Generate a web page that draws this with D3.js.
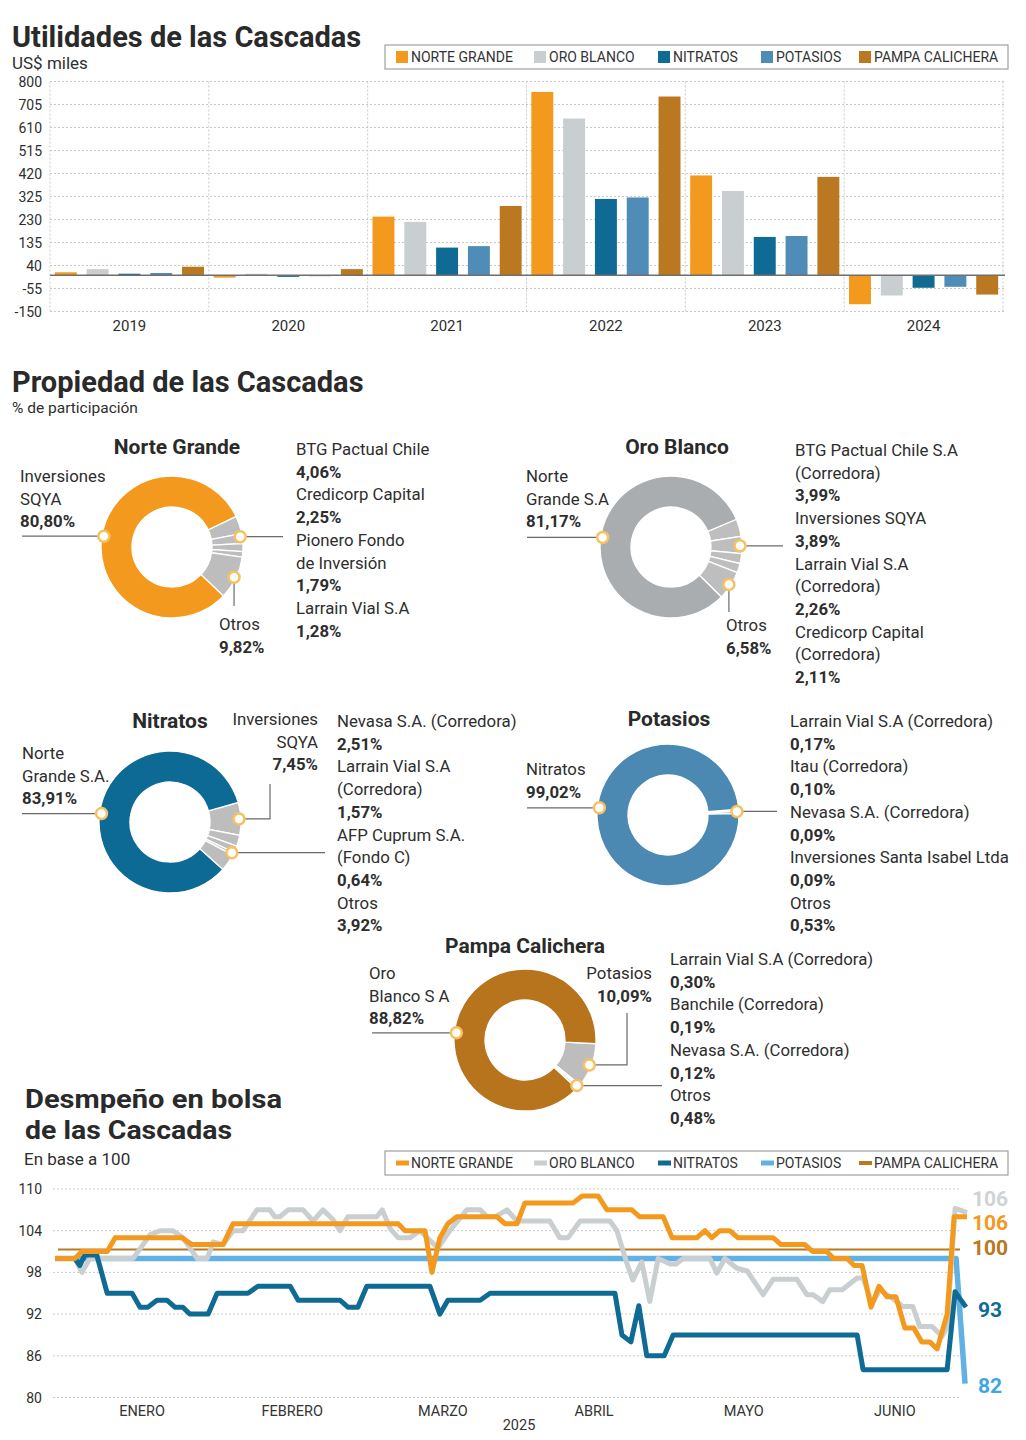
<!DOCTYPE html>
<html><head><meta charset="utf-8">
<script src="https://cdn.jsdelivr.net/npm/d3@7"></script>
<style>
body{margin:0;background:#fff;}
svg{display:block;font-family:Roboto,"Noto Sans",sans-serif;}
</style></head><body>
<svg id="c" width="1026" height="1440"></svg>
<script>
// ================= DATA =================
// --- Utilidades (US$ miles) ---
const years = ["2019","2020","2021","2022","2023","2024"];
const companies = ["NORTE GRANDE","ORO BLANCO","NITRATOS","POTASIOS","PAMPA CALICHERA"];
const profitNorteGrande = [12,-10,242,757,412,-120];
const profitOroBlanco   = [25,6,220,647,348,-84];
const profitNitratos    = [6,-7,114,315,158,-52];
const profitPotasios    = [9,-4,120,321,162,-48];
const profitPampa       = [35,25,286,738,406,-80];
const profitTicks = [-150,-55,40,135,230,325,420,515,610,705,800];

// --- Propiedad (% de participación) ---
const ngHolders = ["Inversiones\nSQYA","BTG Pactual Chile","Credicorp Capital","Pionero Fondo\nde Inversión","Larrain Vial S.A","Otros"];
const ngShares  = [80.80,4.06,2.25,1.79,1.28,9.82];
const obHolders = ["Norte\nGrande S.A","BTG Pactual Chile S.A\n(Corredora)","Inversiones SQYA","Larrain Vial S.A\n(Corredora)","Credicorp Capital\n(Corredora)","Otros"];
const obShares  = [81.17,3.99,3.89,2.26,2.11,6.58];
const niHolders = ["Norte\nGrande S.A.","Inversiones\nSQYA","Nevasa S.A. (Corredora)","Larrain Vial S.A\n(Corredora)","AFP Cuprum S.A.\n(Fondo C)","Otros"];
const niShares  = [83.91,7.45,2.51,1.57,0.64,3.92];
const poHolders = ["Nitratos","Larrain Vial S.A (Corredora)","Itau (Corredora)","Nevasa S.A. (Corredora)","Inversiones Santa Isabel Ltda","Otros"];
const poShares  = [99.02,0.17,0.10,0.09,0.09,0.53];
const pcHolders = ["Oro\nBlanco S A","Potasios","Larrain Vial S.A (Corredora)","Banchile (Corredora)","Nevasa S.A. (Corredora)","Otros"];
const pcShares  = [88.82,10.09,0.30,0.19,0.12,0.48];

// --- Desempeño en bolsa (base 100), [día desde 29-dic-2024, valor] ---
const monthLabels = ["ENERO","FEBRERO","MARZO","ABRIL","MAYO","JUNIO"];
const monthDays = [17.5,47.7,78.0,108.4,138.5,168.9];
const stockTicks = [80,86,92,98,104,110];
const stockNorteGrande = [[0,100],[4,100],[5.4,101],[10.5,101],[12.1,103],[25.5,103],[27.5,102],[33.8,102],[35.8,105],[69,105],[70.4,104],[74.4,104],[75.8,98],[77.4,103],[79,105],[80.8,106],[88.9,106],[90.5,105],[92.9,105],[94.5,108],[104.2,108],[106,109],[109.2,109],[111,107],[116,107],[117.6,106],[122.3,106],[124.1,103],[129.1,103],[130.7,104],[132.1,103],[133.7,104],[135.7,104],[137.3,103],[144.4,103],[146,102],[150.8,102],[152.4,101],[155.2,101],[156.6,100],[159.3,100],[160.7,99],[162.3,99],[164.1,93],[165.7,96],[167.3,94.5],[169.1,94.5],[170.9,90],[172.7,90],[174.3,88],[175.9,88],[177.4,87],[179.4,92],[180.8,106],[183.4,106]];
const stockOroBlanco = [[0,100],[4,100],[5.4,98],[7,100],[15.7,100],[19.1,103.4],[21.1,104],[23.7,104],[25.7,103],[28.6,100],[30.6,100],[31.8,102.4],[33.8,102],[35.8,104],[37.8,104],[40.6,107],[43.2,107],[44.2,106],[45.2,106],[46.9,107],[49.9,107],[51.9,105.4],[53.9,107],[55.9,105.6],[57.3,104],[58.9,106],[64.7,106],[65.8,107],[67.4,104.3],[69,103],[71.4,103],[73.4,104],[77,101.5],[79.4,104],[82.8,107],[85.5,107],[86.9,106],[88.5,106],[90.9,107],[92.9,105.4],[99.5,105.4],[101.5,103],[103.2,103],[105.6,105.4],[111.6,105.4],[113,104],[115,99.3],[116.2,96.9],[118,99.5],[119.6,93.8],[121.3,100],[123.7,99.2],[124.9,99.2],[126.3,100],[131.7,100],[133.1,97.9],[134.7,100],[137.1,98.6],[139.2,98.2],[142.4,94.8],[144.4,97],[149.2,97],[151.2,94.8],[152.4,94.8],[154.4,93.8],[155.8,95.5],[158.3,95.5],[161.3,97.2],[162.5,97.2],[164.3,93.5],[165.9,95.5],[168.5,94.2],[170.5,93.1],[172.5,93.1],[173.9,90.2],[176.4,90.2],[178.4,88.8],[179.4,90.2],[181,107.2],[183.4,106.6]];
const stockNitratos = [[0,100],[4,100],[5,99],[6,100.5],[8.4,100.5],[10.5,95],[15.5,95],[17.1,93],[18.7,93],[20.5,94],[22.5,94],[24.1,93],[25.7,93],[27.1,92],[30.8,92],[32.6,95],[38.8,95],[40.8,96],[47.3,96],[48.9,94],[57.3,94],[58.9,93],[60.9,93],[62.7,96],[75.4,96],[77.4,92],[79,94],[85.5,94],[87.5,95],[112.6,95],[114,89],[115.8,88],[117.4,93.2],[119,86],[122.5,86],[124.3,89],[161.3,89],[162.5,84],[179.4,84],[181,95.2],[183.2,93]];
const stockPotasios = [[0,100],[181.2,100],[183,82]];
const stockPampa = [[0.6,101.3],[182,101.3]];
// end labels, in series order: Norte Grande, Oro Blanco, Nitratos, Potasios, Pampa Calichera
const endLabels = ["106","106","93","82","100"];

// ================= STYLE / LAYOUT =================
const barColors  = ["#f39a1e","#c9ced1","#0f6b94","#4f8cb7","#ba7820"];
const lineColors = ["#f39a1e","#c9ced1","#0f6b94","#62b1e4","#ba7820"];
const textColor = "#2e2e2e";
const svg = d3.select("#c");
const fmtLocale = d3.formatLocale({decimal:",",thousands:".",grouping:[3],currency:["",""]});
const pct = v => fmtLocale.format(".2f")(v) + "%";

function txt(x,y,s,o={}){
  return svg.append("text").attr("x",x).attr("y",y).text(s)
    .attr("font-size",o.size||16.8).attr("font-weight",o.weight||400)
    .attr("fill",o.fill||textColor).attr("text-anchor",o.anchor||"start");
}

// ================= 1. BAR CHART =================
txt(12,47,"Utilidades de las Cascadas",{size:29,weight:700,fill:"#2a2a2a"});
txt(12,69,"US$ miles",{size:17});

const profitSeries = [profitNorteGrande,profitOroBlanco,profitNitratos,profitPotasios,profitPampa];
const yB = d3.scaleLinear().domain([-150,800]).range([311.5,81.5]);
const xB = d3.scaleBand().domain(years).range([50,1003]);
const xS = d3.scaleBand().domain(companies).range([0,xB.bandwidth()]).paddingInner(0.31).paddingOuter(0.152);

const gB = svg.append("g");
gB.selectAll(".hg").data(profitTicks).join("line")
  .attr("x1",50).attr("x2",1005).attr("y1",d=>yB(d)).attr("y2",d=>yB(d))
  .attr("stroke","#c9c9c9").attr("stroke-dasharray","2,2");
const bounds = years.map(y=>xB(y)).concat([xB.range()[1]]);
gB.selectAll(".vg").data(bounds).join("line")
  .attr("x1",d=>d).attr("x2",d=>d).attr("y1",yB(800)).attr("y2",yB(-150))
  .attr("stroke","#c9c9c9").attr("stroke-dasharray","2,2");
gB.selectAll(".tl").data(profitTicks).join("text")
  .attr("x",42).attr("y",d=>yB(d)+5).attr("text-anchor","end")
  .attr("font-size",14).attr("fill",textColor).text(d=>d);
years.forEach((yr,i)=>{
  companies.forEach((c,j)=>{
    const v = profitSeries[j][i];
    gB.append("rect").attr("x",xB(yr)+xS(c)).attr("width",xS.bandwidth())
      .attr("y",Math.min(yB(v),yB(0))).attr("height",Math.abs(yB(v)-yB(0)))
      .attr("fill",barColors[j]);
  });
  txt(xB(yr)+xB.bandwidth()/2,331,yr,{size:15,anchor:"middle"});
});
gB.append("line").attr("x1",50).attr("x2",1005).attr("y1",yB(0)).attr("y2",yB(0))
  .attr("stroke","#6f6f6f").attr("stroke-width",1.5);

const legendX = [396,534,658,761,859];
function legend(y, kind, colors){
  svg.append("rect").attr("x",385).attr("y",y).attr("width",623).attr("height",24)
    .attr("fill","#fff").attr("stroke","#a0a0a0").attr("stroke-width",1.2);
  companies.forEach((c,i)=>{
    if(kind==="rect"){
      svg.append("rect").attr("x",legendX[i]).attr("y",y+6).attr("width",12).attr("height",12).attr("fill",colors[i]);
    } else {
      svg.append("line").attr("x1",legendX[i]).attr("x2",legendX[i]+13).attr("y1",y+12).attr("y2",y+12)
        .attr("stroke",colors[i]).attr("stroke-width",i===4?4:5);
    }
    txt(legendX[i]+15,y+17,c,{size:14,fill:"#333"});
  });
}
legend(45,"rect",barColors);

// ================= 2. DONUTS =================
txt(12,392,"Propiedad de las Cascadas",{size:29,weight:700,fill:"#2a2a2a"});
txt(12,413,"% de participación",{size:15.5});

const R = 71, r0 = 40, LH = 22.7;
const donuts = [
 {title:"Norte Grande",names:ngHolders,shares:ngShares,color:"#f39a1e",small:"#bdbdbd",cx:172,cy:547,start:64.5,tx:177,ty:454,
  callouts:[
   {idx:[0],type:"left",to:22,angle:279,label:{x:20,y:482,anchor:"start"}},
   {idx:[1,2,3,4],type:"right",to:283,column:{x:296,y:455}},
   {idx:[5],type:"down",to:606,label:{x:219,y:630,anchor:"start"}}]},
 {title:"Oro Blanco",names:obHolders,shares:obShares,color:"#a9adb0",small:"#bebebe",cx:671,cy:547,start:67,tx:677,ty:454,
  callouts:[
   {idx:[0],type:"left",to:527,angle:278,label:{x:526,y:482,anchor:"start"}},
   {idx:[1,2,3,4],type:"right",to:783,column:{x:795,y:456}},
   {idx:[5],type:"down",to:612,label:{x:726,y:631,anchor:"start"}}]},
 {title:"Nitratos",names:niHolders,shares:niShares,color:"#0d6a94",small:"#bdbdbd",cx:170,cy:822,start:74,tx:170,ty:728,
  callouts:[
   {idx:[0],type:"left",to:22,angle:277,label:{x:22,y:759,anchor:"start"}},
   {idx:[1],type:"rightUp",to:270,toY:784,label:{x:318,y:725,anchor:"end"}},
   {idx:[2,3,4,5],type:"right",to:325,column:{x:337,y:727}}]},
 {title:"Potasios",names:poHolders,shares:poShares,color:"#4b89b3",small:"#bdbdbd",cx:668,cy:815,start:85.3,tx:669,ty:726,
  callouts:[
   {idx:[0],type:"left",to:527,angle:276,label:{x:526,y:775,anchor:"start"}},
   {idx:[1,2,3,4,5],type:"right",to:777,column:{x:790,y:727}}]},
 {title:"Pampa Calichera",names:pcHolders,shares:pcShares,color:"#b8741c",small:"#bdbdbd",cx:525,cy:1040,start:93,tx:525,ty:953,
  callouts:[
   {idx:[0],type:"left",to:372,angle:276,label:{x:369,y:979,anchor:"start"}},
   {idx:[1],type:"rightUp",to:627,toY:1013,label:{x:652,y:979,anchor:"end"}},
   {idx:[2,3,4,5],type:"right",to:662,column:{x:670,y:965}}]}
];
const rad = d => d*Math.PI/180;
const arcGen = d3.arc().innerRadius(r0).outerRadius(R);

function block(x,y,lines,anchor){
  lines.forEach((l,i)=>txt(x,y+i*LH,l.t,{anchor,weight:l.b?700:400}));
}
donuts.forEach(D=>{
  const g = svg.append("g").attr("transform",`translate(${D.cx},${D.cy})`);
  const order = D.shares.map((_,i)=>i).slice(1).concat([0]);
  const arcs = d3.pie().sort(null).value(i=>D.shares[i])
     .startAngle(rad(D.start)).endAngle(rad(D.start+360))(order);
  const byIdx = {}; arcs.forEach(a=>byIdx[a.data]=a);
  g.selectAll("path").data(arcs).join("path").attr("d",arcGen)
    .attr("fill",a=>a.data===0?D.color:D.small)
    .attr("stroke","#fff").attr("stroke-width",1.3);
  txt(D.tx,D.ty,D.title,{size:21,weight:700,anchor:"middle",fill:"#2a2a2a"});
  D.callouts.forEach(c=>{
    const s = Math.min(...c.idx.map(i=>byIdx[i].startAngle));
    const e = Math.max(...c.idx.map(i=>byIdx[i].endAngle));
    const a = c.angle!==undefined ? rad(c.angle) : (s+e)/2;
    const mx = D.cx + (R-2)*Math.sin(a), my = D.cy - (R-2)*Math.cos(a);
    let pts;
    if(c.type==="left"||c.type==="right") pts=[[mx,my],[c.to,my]];
    else if(c.type==="down") pts=[[mx,my],[mx,c.to]];
    else pts=[[mx,my],[c.to,my],[c.to,c.toY]];
    svg.append("path").attr("d",d3.line()(pts)).attr("fill","none").attr("stroke","#6a6a6a").attr("stroke-width",1.2);
    svg.append("circle").attr("cx",mx).attr("cy",my).attr("r",5.5)
      .attr("fill","#fff").attr("stroke","#f6c162").attr("stroke-width",2.5);
    const lines=[];
    c.idx.forEach(i=>{
      D.names[i].split("\n").forEach(t=>lines.push({t,b:false}));
      lines.push({t:pct(D.shares[i]),b:true});
    });
    if(c.column) block(c.column.x,c.column.y,lines,"start");
    else block(c.label.x,c.label.y,lines,c.label.anchor);
  });
});

// ================= 3. LINE CHART =================
txt(25,1108,"Desmpeño en bolsa",{size:26,weight:700,fill:"#2a2a2a"})
  .attr("textLength",257).attr("lengthAdjust","spacingAndGlyphs");
txt(25,1139,"de las Cascadas",{size:26,weight:700,fill:"#2a2a2a"})
  .attr("textLength",207).attr("lengthAdjust","spacingAndGlyphs");
txt(24,1165,"En base a 100",{size:17});
legend(1151,"line",lineColors);

const xL = d3.scaleLinear().domain([0,184]).range([55,970]);
const yL = d3.scaleLinear().domain([80,110]).range([1397.5,1189]);
svg.selectAll(".lg").data(stockTicks).join("line")
  .attr("x1",53).attr("x2",960).attr("y1",d=>yL(d)).attr("y2",d=>yL(d))
  .attr("stroke","#c9c9c9").attr("stroke-dasharray","2,2");
svg.selectAll(".lt").data(stockTicks).join("text")
  .attr("x",42).attr("y",d=>yL(d)+5).attr("text-anchor","end")
  .attr("font-size",14).attr("fill",textColor).text(d=>d);
monthLabels.forEach((m,i)=>txt(xL(monthDays[i]),1416,m,{size:14.5,anchor:"middle",fill:"#333"}));
txt(519,1430,"2025",{size:14.5,anchor:"middle",fill:"#333"});

const lineGen = d3.line().x(d=>xL(d[0])).y(d=>yL(d[1]));
const stockSeries = [stockNorteGrande,stockOroBlanco,stockNitratos,stockPotasios,stockPampa];
const drawOrder = [4,3,1,2,0];
const widths = [5,5,5,5.5,2];
drawOrder.forEach(i=>{
  svg.append("path").attr("d",lineGen(stockSeries[i])).attr("fill","none")
    .attr("stroke",lineColors[i]).attr("stroke-width",widths[i])
    .attr("stroke-linejoin","round").attr("stroke-linecap","butt");
});
// end labels (series order)
const endLabelY = [1223,1199,1310,1386,1248];
const endLabelColor = ["#f39a1e","#cfd3d6","#0f6b94","#3fa6df","#ba7820"];
endLabels.forEach((s,i)=>{
  txt(990,endLabelY[i]+7,s,{size:21,weight:700,anchor:"middle",fill:endLabelColor[i]});
});
</script>
</body></html>
